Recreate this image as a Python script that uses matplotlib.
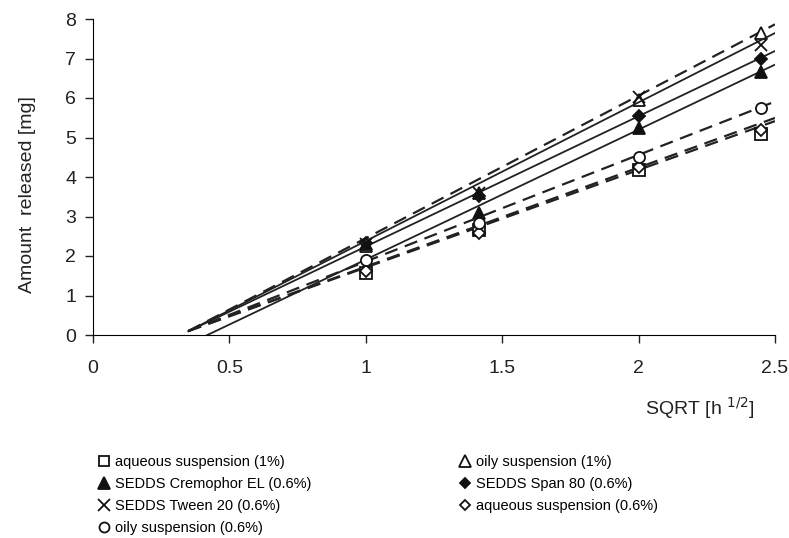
import numpy as np
import matplotlib
matplotlib.use("Agg")
import matplotlib.pyplot as plt

plt.rcParams['font.family'] = ['Liberation Sans', 'DejaVu Sans']

# sqrt of sampling times (1, 2, 4, 6 h)
sqrt_t = [1.0, 1.414, 2.0, 2.449]

names = ["aqueous suspension (1%)", "oily suspension (1%)",
         "SEDDS Cremophor EL (0.6%)", "SEDDS Span 80 (0.6%)",
         "SEDDS Tween 20 (0.6%)", "aqueous suspension (0.6%)",
         "oily suspension (0.6%)"]

aq_1 = [1.57, 2.66, 4.18, 5.1]
oily_1 = [2.25, 3.59, 5.95, 7.65]
cremophor = [2.3, 3.09, 5.23, 6.66]
span80 = [2.33, 3.52, 5.54, 7.0]
tween20 = [2.3, 3.6, 6.03, 7.33]
aq_06 = [1.62, 2.58, 4.25, 5.18]
oily_06 = [1.9, 2.83, 4.5, 5.75]

# trendlines (slope, intercept), drawn from 0.35 to 2.5
trend_slope = [2.47, 3.61, 3.29, 3.30, 3.51, 2.51, 2.70]
trend_icpt = [-0.76, -1.16, -1.38, -1.06, -1.13, -0.78, -0.84]
trend_x = [0.35, 2.5]

series = [aq_1, oily_1, cremophor, span80, tween20, aq_06, oily_06]
markers = ['s', '^', '^', 'D', 'x', 'D', 'o']
filled = [False, False, True, True, True, False, False]
sizes = [8, 9, 9, 6, 9, 6, 8]
styles = ['--', '--', '-', '-', '-', '--', '--']

fig = plt.figure(figsize=(7.89, 5.38), dpi=100)
ax = fig.add_axes([93 / 789, 1 - 335 / 538, 682 / 789, 316 / 538])

handles = []
for i, (y, name) in enumerate(zip(series, names)):
    xs = np.array(trend_x)
    ys = trend_slope[i] * xs + trend_icpt[i]
    if styles[i] == '--':
        ax.plot(xs, ys, color='#222222', lw=1.6, dashes=(6, 3.5))
    else:
        ax.plot(xs, ys, color='#222222', lw=1.3)
    fc = '#111111' if filled[i] else 'white'
    h, = ax.plot(sqrt_t, y, linestyle='none', marker=markers[i], ms=sizes[i],
                 mfc=fc, mec='#111111', mew=1.3, label=name)
    handles.append(h)

ax.set_xlim(0, 2.5)
ax.set_ylim(0, 8)
ax.set_xticks([0, 0.5, 1, 1.5, 2, 2.5])
ax.set_xticklabels(['0', '0.5', '1', '1.5', '2', '2.5'])
ax.set_yticks(range(9))
ax.spines['top'].set_visible(False)
ax.spines['right'].set_visible(False)
ax.tick_params(labelsize=14, length=6, width=1, colors='#222222', pad=6)
ax.xaxis.set_tick_params(pad=12)
ax.set_ylabel('Amount  released [mg]', fontsize=14, color='#222222')
ax.yaxis.set_label_coords(-0.084, 0.443)
fig.text(700 / 789, 1 - 408 / 538, 'SQRT [h $^{1/2}$]', fontsize=14,
         color='#222222', ha='center', va='center')

left = [handles[i] for i in (0, 2, 4, 6)]
right = [handles[i] for i in (1, 3, 5)]
for hs, x0 in ((left, 98), (right, 459)):
    fig.legend(handles=hs, loc='upper left', bbox_to_anchor=(x0 / 789, 1 - 455 / 538),
               frameon=False, fontsize=10.5, handlelength=0.8, handletextpad=0.35,
               labelspacing=0.55, borderpad=0, borderaxespad=0, markerscale=0.9)

fig.savefig('out.png', dpi=100)
